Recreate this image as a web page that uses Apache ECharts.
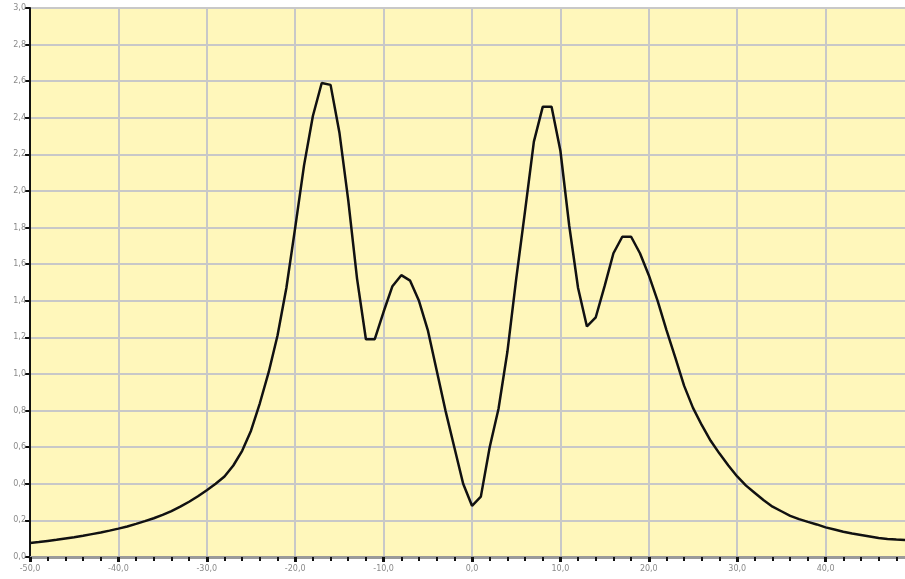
<!DOCTYPE html>
<html>
<head>
<meta charset="utf-8">
<script src="https://cdn.jsdelivr.net/npm/echarts@6/dist/echarts.min.js"></script>
<style>html,body{margin:0;padding:0;background:#fff;}#c{width:905px;height:579px;}</style>
</head>
<body>
<div id="c"></div>
<script>
const xValues = [-50,-49,-48,-47,-46,-45,-44,-43,-42,-41,-40,-39,-38,-37,-36,-35,-34,-33,-32,-31,-30,-29,-28,-27,-26,-25,-24,-23,-22,-21,-20,-19,-18,-17,-16,-15,-14,-13,-12,-11,-10,-9,-8,-7,-6,-5,-4,-3,-2,-1,0,1,2,3,4,5,6,7,8,9,10,11,12,13,14,15,16,17,18,19,20,21,22,23,24,25,26,27,28,29,30,31,32,33,34,35,36,37,38,39,40,41,42,43,44,45,46,47,48,49,50];
const yValues = [0.077,0.082,0.088,0.094,0.101,0.108,0.116,0.125,0.134,0.144,0.155,0.167,0.181,0.196,0.212,0.230,0.251,0.275,0.302,0.332,0.365,0.40,0.44,0.50,0.58,0.69,0.84,1.01,1.21,1.47,1.80,2.14,2.41,2.59,2.58,2.32,1.95,1.52,1.19,1.19,1.34,1.48,1.54,1.51,1.40,1.24,1.02,0.80,0.60,0.40,0.28,0.33,0.60,0.81,1.12,1.52,1.89,2.27,2.46,2.46,2.22,1.81,1.47,1.26,1.31,1.48,1.66,1.75,1.75,1.66,1.54,1.40,1.24,1.09,0.935,0.815,0.72,0.635,0.565,0.50,0.44,0.39,0.35,0.31,0.275,0.25,0.225,0.207,0.192,0.178,0.162,0.150,0.138,0.128,0.120,0.112,0.104,0.099,0.095,0.093,0.090];
const xMin = -50, xMax = 50, xStep = 10;
const yMin = 0, yMax = 3.0, yStep = 0.2;

const fmt = v => v.toFixed(1).replace('.', ',');
const chart = echarts.init(document.getElementById('c'), null, {renderer: 'canvas'});
chart.setOption({
  animation: false,
  backgroundColor: '#ffffff',
  grid: {left: 30, right: -9, top: 8, bottom: 22, containLabel: false, outerBoundsMode: 'none', show: true, backgroundColor: '#fff7bb', borderColor: '#333333', borderWidth: 1},
  xAxis: {
    type: 'value', min: xMin, max: xMax, interval: xStep,
    axisLine: {show: true, onZero: false, lineStyle: {color: '#9a9a9a', width: 3}},
    axisTick: {show: true, length: 5, lineStyle: {color: '#111', width: 3}},
    minorTick: {show: true, splitNumber: 5, length: 4, lineStyle: {color: '#111', width: 2}},
    axisLabel: {formatter: fmt, color: '#8a8a8a', fontSize: 8, fontFamily: 'DejaVu Sans', margin: 8},
    splitLine: {show: true, lineStyle: {color: '#c8c8c8', width: 2}}
  },
  yAxis: {
    type: 'value', min: yMin, max: yMax, interval: yStep,
    axisLine: {show: true, onZero: false, lineStyle: {color: '#111', width: 2}},
    axisTick: {show: true, length: 5, lineStyle: {color: '#111', width: 2}},
    axisLabel: {formatter: fmt, color: '#8a8a8a', fontSize: 8, fontFamily: 'DejaVu Sans', margin: 4},
    splitLine: {show: true, lineStyle: {color: '#c8c8c8', width: 2}}
  },
  series: [{
    type: 'line',
    data: xValues.map((x, i) => [x, yValues[i]]),
    showSymbol: false,
    smooth: false,
    lineStyle: {color: '#111111', width: 2.5},
    z: 5
  }]
});
</script>
</body>
</html>
